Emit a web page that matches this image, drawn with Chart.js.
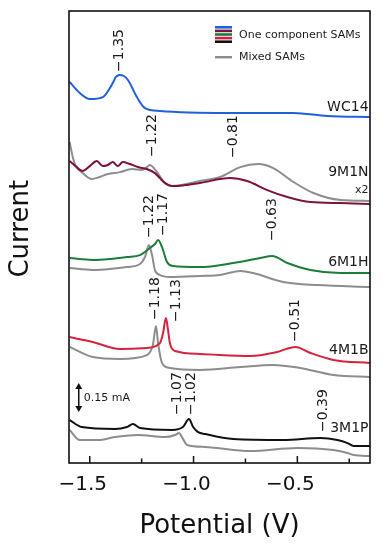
<!DOCTYPE html>
<html><head><meta charset="utf-8">
<script src="https://cdn.jsdelivr.net/npm/chart.js@4.4.1/dist/chart.umd.min.js"></script>
<style>html,body{margin:0;padding:0;background:#fff}</style>
</head><body>
<canvas id="c" width="383" height="550"></canvas>
<script>
// Potential (V) vs offset current (mA)
const WC14 = [[-1.597,1.970],[-1.548,1.913],[-1.500,1.882],[-1.437,1.892],[-1.389,1.965],[-1.374,1.996],[-1.355,2.006],[-1.336,2.001],[-1.316,1.980],[-1.273,1.892],[-1.234,1.835],[-1.162,1.820],[-0.838,1.810],[-0.519,1.810],[-0.355,1.794],[-0.147,1.789]];
const M9N1 = [[-1.597,1.561],[-1.568,1.535],[-1.534,1.510],[-1.500,1.535],[-1.466,1.561],[-1.437,1.535],[-1.413,1.541],[-1.389,1.556],[-1.365,1.535],[-1.341,1.556],[-1.307,1.546],[-1.268,1.530],[-1.225,1.520],[-1.186,1.499],[-1.162,1.473],[-1.138,1.448],[-1.104,1.432],[-1.041,1.437],[-0.969,1.448],[-0.824,1.473],[-0.742,1.458],[-0.645,1.411],[-0.548,1.375],[-0.437,1.349],[-0.292,1.344],[-0.147,1.339]];
const M9N1mix = [[-1.597,1.660],[-1.582,1.582],[-1.568,1.535],[-1.539,1.504],[-1.490,1.468],[-1.452,1.479],[-1.413,1.494],[-1.355,1.504],[-1.297,1.520],[-1.249,1.515],[-1.225,1.530],[-1.210,1.541],[-1.196,1.530],[-1.176,1.504],[-1.138,1.448],[-1.104,1.432],[-0.969,1.458],[-0.872,1.479],[-0.775,1.530],[-0.688,1.546],[-0.616,1.525],[-0.519,1.453],[-0.423,1.396],[-0.292,1.360],[-0.147,1.355]];
const M6H1 = [[-1.597,1.060],[-1.486,1.050],[-1.403,1.055],[-1.321,1.065],[-1.258,1.075],[-1.210,1.112],[-1.186,1.132],[-1.171,1.153],[-1.152,1.117],[-1.128,1.039],[-1.099,1.018],[-0.969,1.013],[-0.809,1.034],[-0.679,1.060],[-0.621,1.070],[-0.548,1.034],[-0.437,0.998],[-0.292,0.982],[-0.147,0.982]];
const M6H1mix = [[-1.597,1.008],[-1.486,0.998],[-1.403,1.003],[-1.321,1.013],[-1.258,1.029],[-1.234,1.065],[-1.215,1.127],[-1.200,1.075],[-1.186,0.998],[-1.162,0.972],[-1.114,0.962],[-0.969,0.967],[-0.872,0.972],[-0.775,0.993],[-0.713,0.982],[-0.568,0.936],[-0.403,0.920],[-0.147,0.910]];
const M4B1 = [[-1.597,0.651],[-1.486,0.626],[-1.355,0.589],[-1.225,0.595],[-1.162,0.620],[-1.147,0.672],[-1.133,0.750],[-1.123,0.688],[-1.114,0.620],[-1.089,0.579],[-0.969,0.564],[-0.727,0.553],[-0.597,0.574],[-0.510,0.600],[-0.437,0.569],[-0.326,0.533],[-0.147,0.517]];
const M4B1mix = [[-1.597,0.600],[-1.486,0.548],[-1.355,0.538],[-1.225,0.558],[-1.196,0.610],[-1.181,0.708],[-1.171,0.620],[-1.152,0.517],[-1.114,0.491],[-0.969,0.481],[-0.775,0.496],[-0.616,0.507],[-0.486,0.491],[-0.326,0.455],[-0.147,0.445]];
const M3P1 = [[-1.597,0.222],[-1.539,0.186],[-1.379,0.176],[-1.321,0.186],[-1.292,0.202],[-1.258,0.181],[-1.104,0.171],[-1.051,0.186],[-1.022,0.227],[-1.002,0.186],[-0.978,0.160],[-0.944,0.150],[-0.809,0.124],[-0.568,0.119],[-0.389,0.129],[-0.307,0.119],[-0.258,0.103],[-0.229,0.088],[-0.147,0.088]];
const M3P1mix = [[-1.597,0.171],[-1.548,0.119],[-1.461,0.119],[-1.379,0.134],[-1.268,0.145],[-1.138,0.134],[-1.089,0.145],[-1.070,0.155],[-1.056,0.134],[-1.031,0.093],[-0.944,0.083],[-0.727,0.062],[-0.500,0.078],[-0.326,0.067],[-0.258,0.052],[-0.229,0.041],[-0.147,0.036]];

const majorTicks = [-1.5, -1.0, -0.5];
const minorTicks = [-1.25, -0.75, -0.25];

const peakText = ['\u22121.35','\u22121.22','\u22120.81','\u22121.22','\u22121.17','\u22120.63','\u22121.18','\u22121.13','\u22120.51','\u22121.07','\u22121.02','\u22120.39'];
const peakX = [-1.355,-1.200,-0.809,-1.215,-1.147,-0.621,-1.186,-1.085,-0.510,-1.080,-1.012,-0.374];
const peakY = [2.022,1.582,1.577,1.163,1.174,1.148,0.739,0.729,0.626,0.248,0.248,0.160];

const nameText = ['WC14','9M1N','6M1H','4M1B','3M1P'];
const nameY = [1.841,1.504,1.039,0.584,0.181];
const nameX = -0.157;
const factorText = 'x2', factorY = 1.411;

const barX = -1.553, barLow = 0.264, barHigh = 0.414;
const barText = '0.15 mA', barTextX = -1.529, barTextY = 0.336;

const legendText = ['One component SAMs', 'Mixed SAMs'];

const C = {blue:'#2160d8', maroon:'#7d1240', green:'#1b7d3a', red:'#d5233f', black:'#111111', gray:'#8d8d8d'};
const FONT = '"DejaVu Sans", sans-serif';

const toXY = a => a.map(p => ({x:p[0], y:p[1]}));
function ds(data, color){
  return {data: toXY(data), borderColor: color, borderWidth: 2, pointRadius: 0, fill: false, cubicInterpolationMode: 'monotone'};
}

const annot = {
  id: 'annot',
  afterDatasetsDraw(chart){
    const {ctx, chartArea:a, scales:{x, y}} = chart;
    ctx.save();
    ctx.fillStyle = '#1a1a1a';
    ctx.font = '14px ' + FONT;
    peakText.forEach((t, i) => {
      ctx.save();
      ctx.translate(x.getPixelForValue(peakX[i]), y.getPixelForValue(peakY[i]));
      ctx.rotate(-Math.PI/2);
      ctx.textAlign = 'left'; ctx.textBaseline = 'middle';
      ctx.fillText(t, 0, 0);
      ctx.restore();
    });
    ctx.textAlign = 'right'; ctx.textBaseline = 'middle';
    nameText.forEach((t, i) => ctx.fillText(t, x.getPixelForValue(nameX), y.getPixelForValue(nameY[i])));
    ctx.font = '11px ' + FONT;
    ctx.fillText(factorText, x.getPixelForValue(nameX), y.getPixelForValue(factorY));
    // scale bar
    const bx = x.getPixelForValue(barX), b1 = y.getPixelForValue(barLow), b2 = y.getPixelForValue(barHigh);
    ctx.strokeStyle = '#111'; ctx.lineWidth = 1.5;
    ctx.beginPath(); ctx.moveTo(bx, b1 - 4); ctx.lineTo(bx, b2 + 4); ctx.stroke();
    ctx.fillStyle = '#111';
    ctx.beginPath(); ctx.moveTo(bx, b2); ctx.lineTo(bx - 3.5, b2 + 6); ctx.lineTo(bx + 3.5, b2 + 6); ctx.closePath(); ctx.fill();
    ctx.beginPath(); ctx.moveTo(bx, b1); ctx.lineTo(bx - 3.5, b1 - 6); ctx.lineTo(bx + 3.5, b1 - 6); ctx.closePath(); ctx.fill();
    ctx.fillStyle = '#1a1a1a';
    ctx.textAlign = 'left';
    ctx.font = '11px ' + FONT;
    ctx.fillText(barText, x.getPixelForValue(barTextX), y.getPixelForValue(barTextY));
    // legend
    const lx = a.right - 155, tx = a.right - 131;
    const stripes = [C.blue, C.maroon, C.green, C.red, C.black];
    stripes.forEach((c, i) => { ctx.fillStyle = c; ctx.fillRect(lx, a.top + 15 + i*3.6, 17, 2.6); });
    ctx.fillStyle = C.gray; ctx.fillRect(lx, a.top + 45, 17, 2.4);
    ctx.fillStyle = '#1a1a1a';
    ctx.fillText(legendText[0], tx, a.top + 24);
    ctx.fillText(legendText[1], tx, a.top + 46);
    // frame and inward ticks
    ctx.strokeStyle = '#111'; ctx.lineWidth = 1.6;
    ctx.strokeRect(a.left, a.top, a.right - a.left, a.bottom - a.top);
    ctx.lineWidth = 1.5;
    majorTicks.forEach(v => { const px = x.getPixelForValue(v); ctx.beginPath(); ctx.moveTo(px, a.bottom); ctx.lineTo(px, a.bottom - 7); ctx.stroke(); });
    minorTicks.forEach(v => { const px = x.getPixelForValue(v); ctx.beginPath(); ctx.moveTo(px, a.bottom); ctx.lineTo(px, a.bottom - 4.5); ctx.stroke(); });
    ctx.restore();
  }
};

new Chart(document.getElementById('c'), {
  type: 'line',
  data: {
    datasets: [
      ds(WC14, C.blue), ds(M9N1, C.maroon), ds(M6H1, C.green), ds(M4B1, C.red), ds(M3P1, C.black),
      ds(M9N1mix, C.gray), ds(M6H1mix, C.gray), ds(M4B1mix, C.gray), ds(M3P1mix, C.gray)
    ]
  },
  options: {
    responsive: false,
    animation: false,
    events: [],
    layout: {padding: {top: 11, right: 13, left: 0, bottom: 0}},
    plugins: {legend: {display: false}, tooltip: {enabled: false}},
    scales: {
      x: {
        type: 'linear', min: -1.60, max: -0.15,
        grid: {display: false, drawTicks: false},
        border: {display: false},
        afterBuildTicks: s => { s.ticks = majorTicks.map(v => ({value: v})); },
        afterFit: s => { s.height = 87; },
        ticks: {
          padding: 10, labelOffset: -7, color: '#111',
          font: {family: FONT, size: 20},
          callback: v => (v < 0 ? '\u2212' : '') + Math.abs(v).toFixed(1)
        },
        title: {display: true, text: 'Potential (V)', color: '#111', font: {family: FONT, size: 26}, padding: {top: 0, bottom: 8}}
      },
      y: {
        type: 'linear', min: 0, max: 2.337,
        grid: {display: false, drawTicks: false},
        border: {display: false},
        ticks: {display: false},
        afterFit: s => { s.width = 69; },
        title: {display: true, text: '\u00a0\u00a0Current', color: '#111', font: {family: FONT, size: 26}, padding: {top: 6, bottom: 0}}
      }
    }
  },
  plugins: [annot]
});
</script>
</body></html>
